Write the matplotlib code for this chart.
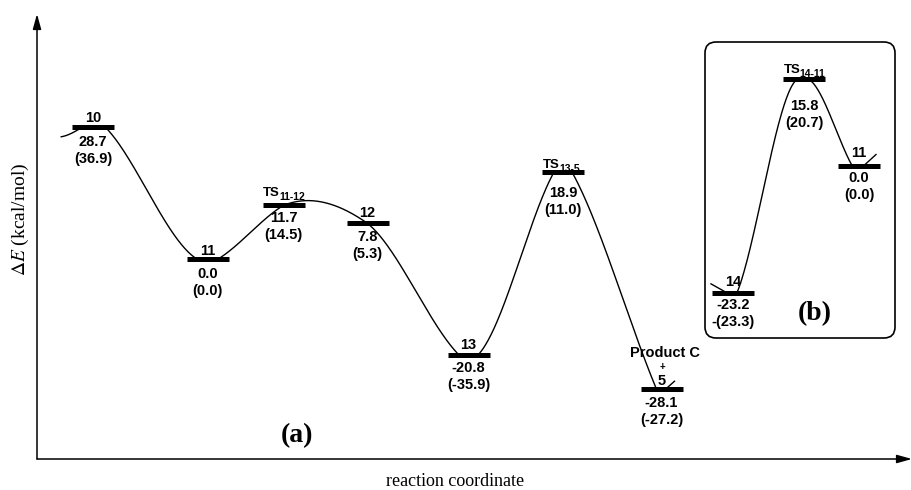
import numpy as np
import matplotlib
matplotlib.use("Agg")
import matplotlib.pyplot as plt
from matplotlib.patches import FancyBboxPatch
from matplotlib.transforms import IdentityTransform

plt.rcParams['mathtext.fontset'] = 'stix'

# ---------------- data ----------------
# panel (a)
species_a = ['10', '11', 'TS', '12', '13', 'TS', 'Product C']
subscript_a = ['', '', '11-12', '', '', '13-5', '']
dE_a = [28.7, 0.0, 11.7, 7.8, -20.8, 18.9, -28.1]
dE_a_paren = ['(36.9)', '(0.0)', '(14.5)', '(5.3)', '(-35.9)', '(11.0)', '(-27.2)']

# panel (b)
species_b = ['14', 'TS', '11']
subscript_b = ['', '14-11', '']
dE_b = [-23.2, 15.8, 0.0]
dE_b_paren = ['-(23.3)', '(20.7)', '(0.0)']

# ---------------- layout (pixels) ----------------
W, H = 912, 490
x_a = [93, 207.5, 283.5, 367.5, 468.5, 563, 661.5]
x_b = [733, 804, 859]
bar_w = 42

# curve shape: contact gaps (px) and slopes (px/px) at each level
g_in_a = [10, 10, 0, 0, 9, 9, 5]
g_out_a = [12, 10, 0, 0, 9, 9, 0]
m_in_a = [0.6, -0.6, 0.6, -0.7, -1.0, 1.8, -2.4]
m_out_a = [-1.0, 0.6, 0.4, -0.8, 1.0, -1.8, 0]
g_in_b = [6, 6, 7]
g_out_b = [4, 4, 0]
m_in_b = [-0.56, 0.5, -1.8]
m_out_b = [2.5, -0.5, 0]

# label offsets (px)
above_a = [5, 4, 9, 6, 6, 4, 32]
below_a = [14, 14, 12, 13, 12, 20, 13]
above_b = [7, 6, 9]
below_b = [11, 26, 11]

SANS = 'Liberation Sans'
SERIF = 'Liberation Serif'
FS = 10.5

fig = plt.figure(figsize=(W / 100, H / 100), dpi=100)
fig.patch.set_facecolor('white')


def rect(l, t, r, b):
    return [l / W, 1 - b / H, (r - l) / W, (b - t) / H]


# main axes
E0_a, sc_a = 259.4, 4.62
ax = fig.add_axes(rect(37, 15, 911, 459))
ax.set_xlim(37, 911)
ax.set_ylim((E0_a - 459) / sc_a, (E0_a - 15) / sc_a)
ax.axis('off')

# inset axes
E0_b, sc_b = 165.5, 5.49
axb = fig.add_axes(rect(705, 42, 895, 338))
axb.set_xlim(705, 895)
axb.set_ylim((E0_b - 338) / sc_b, (E0_b - 42) / sc_b)
axb.axis('off')

# axis arrows
arrow = dict(arrowstyle='-|>,head_length=0.9,head_width=0.25', color='black',
             lw=1.1, mutation_scale=10, shrinkA=0, shrinkB=0)
ax.annotate('', xy=(37, H - 14), xytext=(37, H - 459), xycoords='figure pixels',
            textcoords='figure pixels', arrowprops=arrow)
ax.annotate('', xy=(912, H - 459), xytext=(37, H - 459), xycoords='figure pixels',
            textcoords='figure pixels', arrowprops=arrow)

# inset box
box = FancyBboxPatch((705, H - 338), 190, 296, boxstyle='round,pad=0,rounding_size=11',
                     transform=IdentityTransform(), fill=False, lw=1.2, ec='black')
fig.patches.append(box)


def hermite(x0, y0, m0, x1, y1, m1, sc, n=80):
    t = np.linspace(0, 1, n)
    L = x1 - x0
    h00 = 2 * t**3 - 3 * t**2 + 1
    h10 = t**3 - 2 * t**2 + t
    h01 = -2 * t**3 + 3 * t**2
    h11 = t**3 - t**2
    y = h00 * y0 + h10 * L * m0 / sc + h01 * y1 + h11 * L * m1 / sc
    return list(x0 + t * L), list(y)


def build_curve(xc, E, g_in, g_out, m_in, m_out, sc):
    xs, ys = [], []
    n = len(xc)
    for i in range(n):
        xs += [xc[i] - g_in[i], xc[i] + g_out[i]]
        ys += [E[i], E[i]]
        if i < n - 1:
            hx, hy = hermite(xc[i] + g_out[i], E[i], m_out[i],
                             xc[i + 1] - g_in[i + 1], E[i + 1], m_in[i + 1], sc)
            xs += hx
            ys += hy
    return xs, ys


# panel (a) curve
cx, cy = build_curve(x_a, dE_a, g_in_a, g_out_a, m_in_a, m_out_a, sc_a)
lx, ly = hermite(x_a[0] - 32, dE_a[0] - 10 / sc_a, 0.15,
                 x_a[0] - g_in_a[0], dE_a[0], m_in_a[0], sc_a)
ax.plot(lx + cx, ly + cy, color='black', lw=1.0, solid_capstyle='round')
ax.plot([x_a[-1] + 4, x_a[-1] + 13], [dE_a[-1], dE_a[-1] + 8 / sc_a], color='black', lw=1.0)

# panel (b) curve
cx, cy = build_curve(x_b, dE_b, g_in_b, g_out_b, m_in_b, m_out_b, sc_b)
axb.plot([x_b[0] - 22] + cx, [dE_b[0] + 9 / sc_b] + cy, color='black', lw=1.0)
axb.plot([x_b[-1] + 5, x_b[-1] + 17], [dE_b[-1], dE_b[-1] + 11 / sc_b], color='black', lw=1.0)


def draw_levels(a, xc, E, names, subs, paren, above, below):
    for i in range(len(xc)):
        a.hlines(E[i], xc[i] - bar_w / 2, xc[i] + bar_w / 2, color='black', lw=3.6, zorder=3)
        # values below
        a.annotate(f'{E[i]:.1f}', xy=(xc[i], E[i]), xytext=(0, -(below[i] + 5)),
                   textcoords='offset pixels', ha='center', va='baseline',
                   fontsize=FS, fontweight='bold', family=SANS)
        a.annotate(paren[i], xy=(xc[i], E[i]), xytext=(0, -(below[i] + 22)),
                   textcoords='offset pixels', ha='center', va='baseline',
                   fontsize=FS, fontweight='bold', family=SANS)
        # name above
        if subs[i]:
            t = a.annotate(names[i], xy=(xc[i], E[i]), xytext=(-12, above[i]),
                           textcoords='offset pixels', ha='center', va='baseline',
                           fontsize=9.5, fontweight='bold', family=SANS)
            a.annotate(subs[i], xy=(1, 0), xycoords=t, xytext=(-0.5, -3),
                       textcoords='offset pixels', ha='left', va='bottom',
                       fontsize=7.5, fontweight='bold', family=SANS)
        elif names[i] == 'Product C':
            a.annotate(names[i], xy=(xc[i], E[i]), xytext=(4, above[i]),
                       textcoords='offset pixels', ha='center', va='baseline',
                       fontsize=FS, fontweight='bold', family=SANS)
            a.annotate('+', xy=(xc[i], E[i]), xytext=(1, 22.5),
                       textcoords='offset pixels', ha='center', va='center',
                       fontsize=7, fontweight='bold', family=SANS)
            a.annotate('5', xy=(xc[i], E[i]), xytext=(0, 4),
                       textcoords='offset pixels', ha='center', va='baseline',
                       fontsize=FS, fontweight='bold', family=SANS)
        else:
            a.annotate(names[i], xy=(xc[i], E[i]), xytext=(0, above[i]),
                       textcoords='offset pixels', ha='center', va='baseline',
                       fontsize=FS, fontweight='bold', family=SANS)


draw_levels(ax, x_a, dE_a, species_a, subscript_a, dE_a_paren, above_a, below_a)
draw_levels(axb, x_b, dE_b, species_b, subscript_b, dE_b_paren, above_b, below_b)

# panel letters and axis labels
fig.text(297 / W, 1 - 436 / H, '(a)', ha='center', va='center', fontsize=20,
         fontweight='bold', family=SERIF)
fig.text(815 / W, 1 - 314 / H, '(b)', ha='center', va='center', fontsize=20,
         fontweight='bold', family=SERIF)
fig.text(20 / W, 1 - 219 / H, r'$\mathit{\Delta E}$ (kcal/mol)', rotation=90,
         ha='center', va='center', fontsize=14, family=SERIF)
fig.text(455 / W, 1 - 481 / H, 'reaction coordinate', ha='center', va='center',
         fontsize=13, family=SERIF)

fig.savefig('out.png', dpi=100, facecolor='white')
